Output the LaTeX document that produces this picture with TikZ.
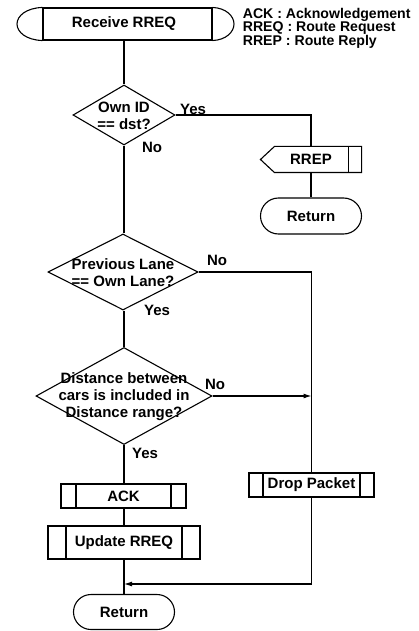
\documentclass[tikz,border=0pt]{standalone}
\usepackage{fontspec}
\setmainfont{Liberation Sans}
\usetikzlibrary{shapes,arrows.meta,positioning}

\tikzset{
  chart/.style={x=1pt, y=-1pt, line width=1.1pt, font=\fontsize{15}{17}\selectfont\bfseries},
  decision/.style={draw, diamond, inner sep=0pt},
  procbox/.style={draw, rectangle, inner sep=0pt, minimum height=24,
    path picture={
      \draw ([xshift=#1]path picture bounding box.north west) -- ([xshift=#1]path picture bounding box.south west);
      \draw ([xshift=-#1]path picture bounding box.north east) -- ([xshift=-#1]path picture bounding box.south east);
    }},
  procbox/.default=15,
  terminal/.style={draw, rounded rectangle, inner sep=0pt, minimum width=101, minimum height=36},
  branch/.style={inner sep=0pt},
  flow/.style={-{Latex[length=8pt,width=5pt]}}
}

\begin{document}
\begin{tikzpicture}[chart]
\useasboundingbox (0,0) rectangle (418,631);

% Start
\node[draw, minimum width=169, minimum height=32, inner sep=0pt] (recv) at (127.5,24) {\hspace*{-7pt}Receive RREQ};
\draw (recv.north west) .. controls (26,8) and (17,16) .. (17,24)
      .. controls (17,32) and (26,40) .. (recv.south west);
\draw (recv.north east) .. controls (226,8) and (234,16) .. (234,24)
      .. controls (234,32) and (226,40) .. (recv.south east);

% Legend
\node[anchor=west, align=left, font=\fontsize{14.1}{13.5}\selectfont\bfseries] (legend) at (239,28)
  {ACK : Acknowledgement\\RREQ : Route Request\\RREP : Route Reply};

% Decisions
\node[decision, minimum width=102, minimum height=60] (own) at (124,115) {};
\node[align=center] (ownTxt) at (124,116) {Own ID\\== dst?};

\node[decision, minimum width=150, minimum height=76] (lane) at (123,272) {};
\node[align=center] (laneTxt) at (123,273) {Previous Lane\\== Own Lane?};

\node[decision, minimum width=176, minimum height=97] (dist) at (124,396) {};
\node[align=center] (distTxt) at (124,397) {Distance between\\cars is included in\\Distance range?};

% Reply branch
\node[minimum width=100, minimum height=25, inner sep=0pt] (rrep) at (311,159.5) {RREP};
\draw (rrep.north east) -- ([xshift=14]rrep.north west) -- (rrep.west)
      -- ([xshift=14]rrep.south west) -- (rrep.south east) -- cycle;
\draw ([xshift=-13]rrep.north east) -- ([xshift=-13]rrep.south east);
\node[terminal] (ret1) at (311,216) {Return};

% Processes
\node[procbox=15, minimum width=125] (ack) at (123.5,496) {ACK};
\node[procbox=18, minimum width=152, minimum height=33] (upd) at (124,542.5) {Update RREQ};
\node[procbox=14, minimum width=125] (drop) at (311.5,485) {Drop Packet};
\node[terminal, minimum height=35] (ret2) at (124,612) {Return};
\coordinate (join) at (124,584);

% Branch labels
\node[branch] (ownYes) at (193,109) {Yes};
\node[branch] (ownNo) at (152,147) {No};
\node[branch] (laneNo) at (217,260) {No};
\node[branch] (laneYes) at (157,310) {Yes};
\node[branch] (distNo) at (215,384) {No};
\node[branch] (distYes) at (145,453) {Yes};

% Connectors
\draw (own.north |- recv.south) -- (own.north);
\draw (own.east) -| (rrep.north);
\draw (rrep.south -| ret1.north) -- (ret1.north);
\draw (own.south) -- (lane.north -| own.south);
\draw (lane.east) -| (drop.north);
\draw (lane.south -| dist.north) -- (dist.north);
\draw[flow] (dist.east) -- (dist.east -| drop.north);
\draw (dist.south) -- (ack.north -| dist.south);
\draw (ack.south -| upd.north) -- (upd.north);
\draw (upd.south) -- (ret2.north);
\draw[flow] (drop.south) |- (join);
\end{tikzpicture}
\end{document}
